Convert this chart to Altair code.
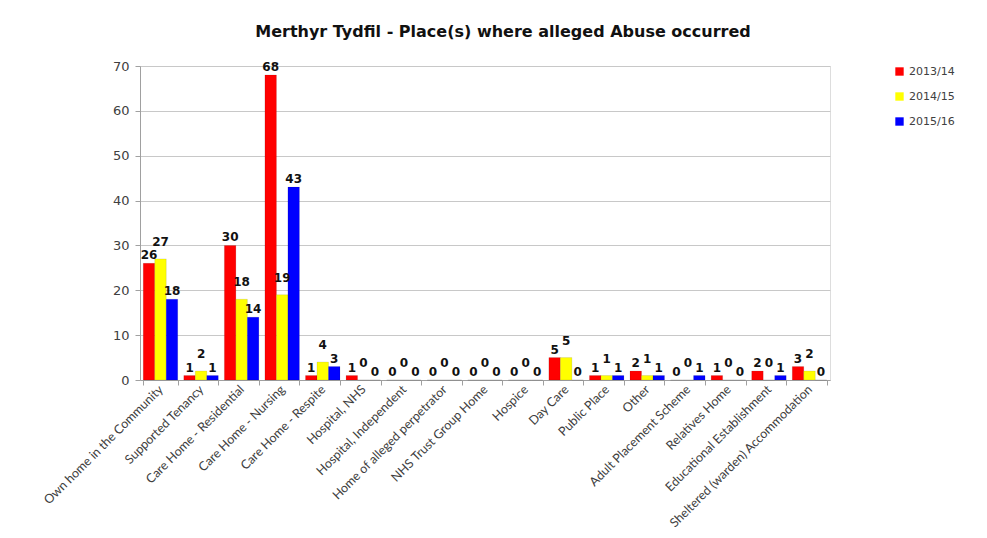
import altair as alt
import pandas as pd

categories = [
    "Own home in the Community", "Supported Tenancy", "Care Home - Residential",
    "Care Home - Nursing", "Care Home - Respite", "Hospital, NHS",
    "Hospital, Independent", "Home of alleged perpetrator", "NHS Trust Group Home",
    "Hospice", "Day Care", "Public Place", "Other", "Adult Placement Scheme",
    "Relatives Home", "Educational Establishment", "Sheltered (warden) Accommodation",
]
years = ["2013/14", "2014/15", "2015/16"]
v_2013 = [26, 1, 30, 68, 1, 1, 0, 0, 0, 0, 5, 1, 2, 0, 1, 2, 3]
v_2014 = [27, 2, 18, 19, 4, 0, 0, 0, 0, 0, 5, 1, 1, 0, 0, 0, 2]
v_2015 = [18, 1, 14, 43, 3, 0, 0, 0, 0, 0, 0, 1, 1, 1, 0, 1, 0]
colors = ["#FF0000", "#FFFF00", "#0000FF"]

rows = []
for yr, vals in zip(years, [v_2013, v_2014, v_2015]):
    for c, v in zip(categories, vals):
        rows.append({"Place": c, "Year": yr, "Value": v})
df = pd.DataFrame(rows)

x = alt.X("Place:N", sort=categories, title=None,
          scale=alt.Scale(paddingInner=0.15, paddingOuter=0.08),
          axis=alt.Axis(labelAngle=-45, labelAlign="right", labelBaseline="middle",
                        labelFont="Lato", labelFontSize=12.5, labelColor="#404040",
                        labelPadding=2, labelLimit=300,
                        domainColor="#a0a0a0", tickColor="#a0a0a0", tickBand="extent",
                        tickSize=5, grid=False))
xo = alt.XOffset("Year:N", sort=years)
y = alt.Y("Value:Q", title=None,
          scale=alt.Scale(domain=[0, 70]),
          axis=alt.Axis(values=[0, 10, 20, 30, 40, 50, 60, 70], labelFont="DejaVu Sans",
                        labelFontSize=13, labelColor="#404040", labelPadding=6,
                        domainColor="#a0a0a0", tickColor="#a0a0a0", tickSize=5,
                        gridColor="#c8c8c8"))

base = alt.Chart(df)
bars = base.mark_bar(stroke="#00000033", strokeWidth=0.5).encode(
    x=x, xOffset=xo, y=y,
    color=alt.Color("Year:N", sort=years,
                    scale=alt.Scale(domain=years, range=colors),
                    legend=alt.Legend(title=None, orient="none", legendX=754, legendY=0,
                                      symbolType="square", symbolSize=70,
                                      symbolStrokeWidth=0,
                                      labelFont="DejaVu Sans", labelFontSize=11,
                                      labelColor="#404040", rowPadding=13)),
)
label_style = dict(fontWeight="bold", font="DejaVu Sans", fontSize=12, color="#111111")
labels_rb = base.transform_filter(alt.datum.Year != "2014/15").mark_text(
    dy=-8, **label_style).encode(x=x, xOffset=xo, y=y, text="Value:Q")
labels_y = base.transform_filter(alt.datum.Year == "2014/15").mark_text(
    dy=-17, **label_style).encode(x=x, xOffset=xo, y=y, text="Value:Q")

chart = (bars + labels_rb + labels_y).properties(
    width=690, height=314,
    autosize=alt.AutoSizeParams(type="none"),
    padding={"left": 132, "top": 58, "right": 149, "bottom": 150},
    title=alt.TitleParams("Merthyr Tydfil - Place(s) where alleged Abuse occurred",
                          font="DejaVu Sans", fontSize=16, fontWeight="bold",
                          color="#111111", anchor="middle", offset=20, dx=18),
).configure_view(stroke=None).configure(background="white")

chart.save("out.html", embed_options={"renderer": "svg", "actions": False})
